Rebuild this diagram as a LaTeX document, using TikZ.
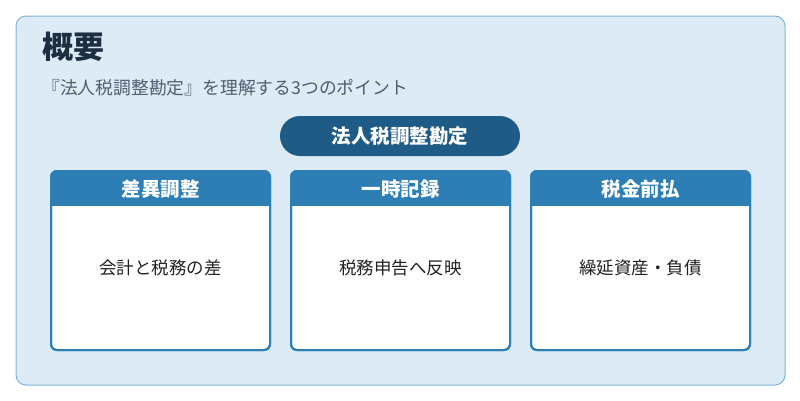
\documentclass[tikz,border=0pt]{standalone}
\usepackage{fontspec}
\setmainfont{Noto Sans CJK JP}
\begin{document}
\begin{tikzpicture}[x=1pt,y=-1pt,
  card/.style={draw=cardc,line width=2pt,fill=white,rounded corners=6pt},
  head/.style={font=\fontsize{19.5}{22}\selectfont\bfseries,text=white},
  body/.style={font=\fontsize{17.5}{20}\selectfont,text=textc}]
\definecolor{bgc}{HTML}{DCEBF6}
\definecolor{bordc}{HTML}{7EB4D8}
\definecolor{cardc}{HTML}{2E7EB6}
\definecolor{pillc}{HTML}{1F5B87}
\definecolor{titlec}{HTML}{1B2E42}
\definecolor{subc}{HTML}{4F5F6E}
\definecolor{textc}{HTML}{222222}
\useasboundingbox (0,0) rectangle (800,400);
\fill[white] (0,0) rectangle (800,400);
\draw[draw=bordc,fill=bgc,line width=1pt,rounded corners=10pt] (16,16) rectangle (785,385);
\node[anchor=west,inner sep=0pt,font=\fontsize{31}{34}\selectfont\bfseries,text=titlec] (title) at (42,47) {概要};
\node[anchor=west,inner sep=0pt,font=\fontsize{17.8}{20}\selectfont,text=subc] (sub) at (42,88) {『法人税調整勘定』を理解する3つのポイント};
\fill[pillc,rounded corners=20pt] (280,116) rectangle (520,156);
\node[head] (pill) at (400,136) {法人税調整勘定};
\foreach \x/\h/\b/\n in {51/差異調整/会計と税務の差/a,291/一時記録/税務申告へ反映/b,531/税金前払/繰延資産・負債/c}{
  \draw[card] (\x,171) rectangle (\x+219,350);
  \begin{scope}
  \clip[rounded corners=6pt] (\x,171) rectangle (\x+219,350);
  \fill[cardc] (\x,171) rectangle (\x+219,206);
  \end{scope}
  \draw[draw=cardc,line width=2pt,rounded corners=6pt] (\x,171) rectangle (\x+219,350);
  \node[head] (h\n) at (\x+109.5,189) {\h};
  \node[body] (b\n) at (\x+109.5,268) {\b};
}
\end{tikzpicture}
\end{document}
